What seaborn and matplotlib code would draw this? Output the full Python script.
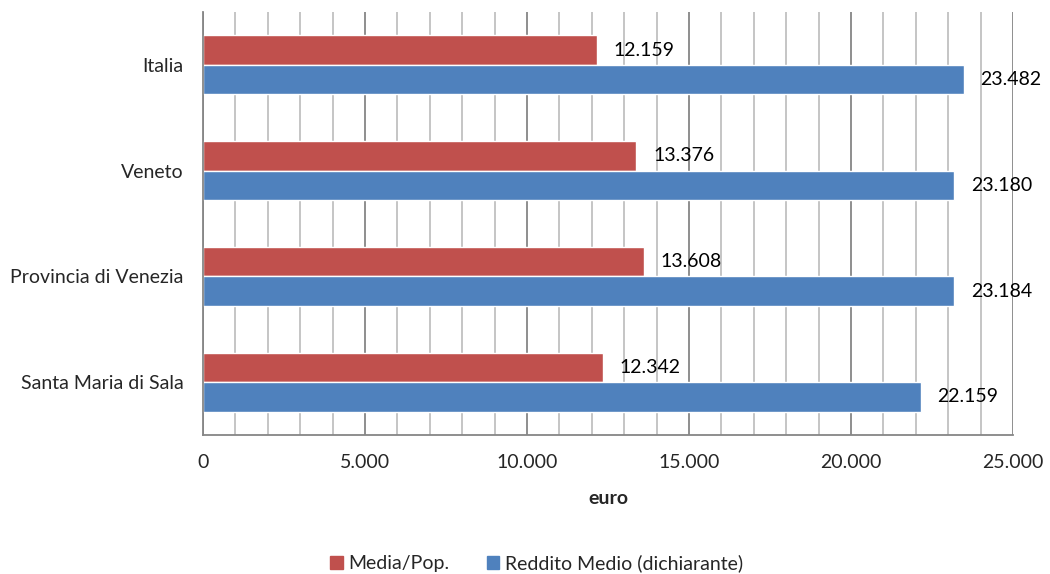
import numpy as np
import pandas as pd
import matplotlib
matplotlib.use("Agg")
import matplotlib.pyplot as plt
from matplotlib.ticker import FuncFormatter, MultipleLocator, FixedLocator
from matplotlib.patches import Patch
import seaborn as sns

# data
areas = ["Italia", "Veneto", "Provincia di Venezia", "Santa Maria di Sala"]
series = ["Media/Pop.", "Reddito Medio (dichiarante)"]
media_pop = [12159, 13376, 13608, 12342]
reddito_medio = [23482, 23180, 23184, 22159]
colors = ["#C0504D", "#4F81BD"]

df = pd.DataFrame({
    "area": areas * 2,
    "serie": [series[0]] * 4 + [series[1]] * 4,
    "euro": media_pop + reddito_medio,
})

sns.set_style("white")
plt.rcParams["font.family"] = ["Lato", "DejaVu Sans"]

def it_fmt(v):
    # thousands with a dot, italian style
    return f"{int(round(v)):,}".replace(",", ".")

fig = plt.figure(figsize=(10.5, 5.74), dpi=100)
ax = fig.add_axes([203 / 1050, 1 - 435 / 574, 810 / 1050, 423 / 574])

sns.barplot(data=df, y="area", x="euro", hue="serie", order=areas,
            hue_order=series, palette=colors, orient="h", width=0.56,
            saturation=1, legend=False, ax=ax)

for cont in ax.containers:
    vals = [b.get_width() for b in cont]
    ax.bar_label(cont, labels=[it_fmt(v) for v in vals], padding=12,
                 fontsize=14, color="black")

ax.set_xlim(0, 25000)
ax.set_ylim(len(areas) - 0.5, -0.5)
ax.xaxis.set_major_locator(MultipleLocator(5000))
ax.xaxis.set_minor_locator(MultipleLocator(1000))
ax.xaxis.set_major_formatter(FuncFormatter(lambda v, p: it_fmt(v)))
ax.grid(axis="x", which="major", color="#868686", linewidth=1.3)
ax.grid(axis="x", which="minor", color="#C0C0C0", linewidth=1.3)
ax.set_axisbelow(True)

# category boundaries as small ticks on the left axis
ax.yaxis.set_minor_locator(FixedLocator(np.arange(len(areas) + 1) - 0.5))
ax.tick_params(axis="y", which="major", length=0, labelsize=14, pad=14)
ax.tick_params(axis="y", which="minor", length=6, color="#868686", width=1.3)
ax.tick_params(axis="x", which="major", length=6, color="#868686", width=1.3,
               labelsize=14, pad=8)
ax.tick_params(axis="x", which="minor", length=0)

for s in ["top", "right"]:
    ax.spines[s].set_visible(False)
for s in ["left", "bottom"]:
    ax.spines[s].set_color("#868686")
    ax.spines[s].set_linewidth(1.3)

ax.set_ylabel("")
ax.set_xlabel("euro", fontsize=14, fontweight="bold", labelpad=13)

handles = [Patch(color=c, label=s) for c, s in zip(colors, series)]
fig.legend(handles=handles, loc="center", bbox_to_anchor=(0.511, 0.019),
           ncol=2, frameon=False, fontsize=14, handlelength=0.65,
           handleheight=0.65, handletextpad=0.3, columnspacing=1.9)

fig.savefig("out.png", dpi=100)
